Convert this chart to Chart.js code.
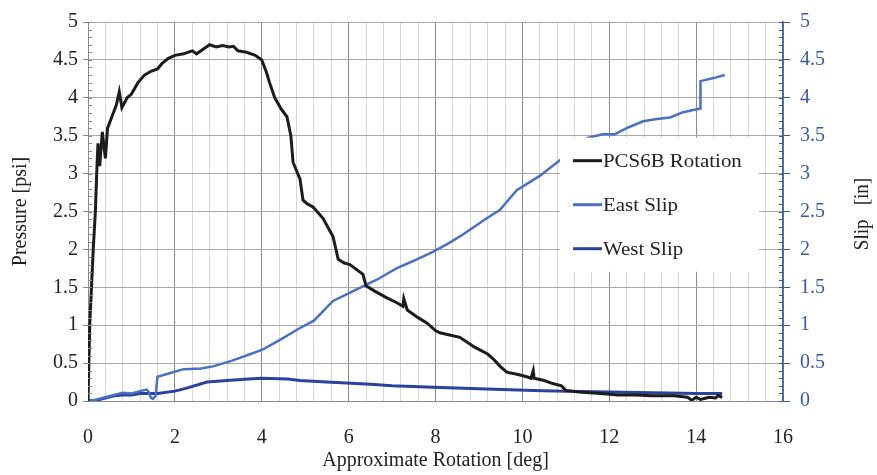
<!DOCTYPE html>
<html>
<head>
<meta charset="utf-8">
<script src="https://cdn.jsdelivr.net/npm/chart.js@4"></script>
<style>
  html, body { margin: 0; padding: 0; background: #fff; }
  #wrap { width: 877px; height: 475px; }
</style>
</head>
<body>
<div id="wrap"><canvas id="grafico"></canvas></div>
<script>
// datos
const seriesNames = ['PCS6B Rotation', 'East Slip', 'West Slip'];

const pressureRot = [0, 0.04, 0.12, 0.17, 0.2, 0.23, 0.27, 0.33, 0.4, 0.45, 0.55, 0.65, 0.72, 0.78, 0.9, 1.0,
  1.15, 1.3, 1.45, 1.6, 1.7, 1.85, 2.0, 2.2, 2.4, 2.5, 2.65, 2.8, 2.95, 3.1, 3.25, 3.35, 3.45, 3.65, 3.85,
  4.0, 4.1, 4.18, 4.3, 4.45, 4.58, 4.67, 4.72, 4.88, 4.95, 5.05, 5.18, 5.41, 5.64, 5.76, 5.9, 6.03, 6.33,
  6.4, 6.6, 6.88, 7.1, 7.25, 7.27, 7.35, 7.6, 7.8, 8.0, 8.1, 8.4, 8.56, 8.8, 8.9, 9.2, 9.32, 9.5, 9.64,
  9.9, 10.1, 10.2, 10.25, 10.27, 10.5, 10.7, 10.9, 11.0, 11.3, 11.8, 12.2, 12.6, 13.0, 13.5, 13.8, 13.9,
  14.0, 14.1, 14.3, 14.45, 14.5, 14.6];
const pressure = [0, 1.0, 2.0, 2.5, 3.0, 3.4, 3.1, 3.55, 3.2, 3.6, 3.75, 3.9, 4.08, 3.87, 4.0, 4.05,
  4.2, 4.3, 4.35, 4.38, 4.45, 4.52, 4.56, 4.58, 4.62, 4.58, 4.64, 4.7, 4.67, 4.69, 4.67, 4.68, 4.62, 4.6, 4.56,
  4.5, 4.35, 4.2, 4.0, 3.85, 3.75, 3.5, 3.15, 2.93, 2.65, 2.6, 2.56, 2.41, 2.17, 1.87, 1.82, 1.8, 1.67,
  1.52, 1.45, 1.36, 1.3, 1.25, 1.35, 1.2, 1.1, 1.03, 0.93, 0.9, 0.86, 0.84, 0.75, 0.71, 0.62, 0.56, 0.45, 0.38,
  0.35, 0.32, 0.3, 0.4, 0.3, 0.27, 0.23, 0.2, 0.14, 0.12, 0.1, 0.08, 0.08, 0.07, 0.07, 0.05, 0.01,
  0.05, 0.02, 0.05, 0.04, 0.07, 0.05];

const eastRot = [0, 0.2, 0.4, 0.6, 0.8, 1.0, 1.2, 1.35, 1.4, 1.45, 1.5, 1.55, 1.57, 1.6, 1.9, 2.2, 2.6,
  2.9, 3.3, 3.65, 4.03, 4.4, 4.84, 5.2, 5.64, 6.0, 6.42, 6.65, 7.1, 7.5, 7.95, 8.3, 8.64, 9.18, 9.48, 9.87,
  10.4, 10.87, 11.2, 11.5, 11.85, 12.13, 12.4, 12.78, 13.1, 13.4, 13.7, 14.09, 14.1, 14.4, 14.66];
const eastSlip = [0, 0.02, 0.05, 0.08, 0.11, 0.1, 0.13, 0.15, 0.12, 0.04, 0.03, 0.06, 0.15, 0.32, 0.37, 0.42, 0.43,
  0.46, 0.53, 0.6, 0.68, 0.8, 0.95, 1.06, 1.32, 1.42, 1.54, 1.6, 1.75, 1.85, 1.97, 2.08, 2.2, 2.41, 2.52, 2.78,
  2.97, 3.18, 3.32, 3.47, 3.52, 3.52, 3.6, 3.69, 3.72, 3.74, 3.81, 3.86, 4.22, 4.26, 4.3];

const westRot = [0, 0.2, 0.4, 0.6, 0.8, 1.0, 1.2, 1.6, 2.0, 2.27, 2.74, 3.2, 3.7, 4.0, 4.6, 4.88, 5.5,
  6.5, 7.0, 7.94, 9.0, 10.25, 11.0, 12.0, 13.0, 14.0, 14.6];
const westSlip = [0, 0.01, 0.04, 0.07, 0.08, 0.08, 0.1, 0.1, 0.13, 0.17, 0.25, 0.27, 0.29, 0.3, 0.29, 0.27, 0.25,
  0.22, 0.2, 0.18, 0.16, 0.14, 0.13, 0.12, 0.11, 0.1, 0.1];

const toPoints = (xs, ys) => xs.map((x, i) => ({ x: x, y: ys[i] }));

const serif = 'Liberation Serif';
const blueAxis = '#3b57a8';
const fmt = v => String(+Number(v).toFixed(2));

// leyenda dentro del área, caja blanca
const legendBox = {
  id: 'legendBox',
  afterDatasetsDraw(chart) {
    const { ctx, chartArea, scales } = chart;
    const left = chartArea.right - 223;
    const top = scales.y.getPixelForValue(3.5) + 2;
    ctx.save();
    ctx.fillStyle = '#fff';
    ctx.fillRect(left, top, 199, 134);
    ctx.textBaseline = 'middle';
    ctx.fillStyle = '#222';
    chart.data.datasets.forEach((ds, i) => {
      const y = top + 23 + i * 44;
      ctx.strokeStyle = ds.borderColor;
      ctx.lineWidth = 3;
      ctx.beginPath();
      ctx.moveTo(left + 13, y);
      ctx.lineTo(left + 42, y);
      ctx.stroke();
      ctx.save();
      ctx.translate(left + 43, y + 1);
      ctx.scale(1.1, 1);
      ctx.font = '19px "' + serif + '"';
      ctx.fillText(ds.label, 0, 0);
      ctx.restore();
    });
    ctx.restore();
  }
};

// ticks menores y título derecho
const extras = {
  id: 'extras',
  afterDraw(chart) {
    const { ctx, chartArea, scales } = chart;
    ctx.save();
    ctx.lineWidth = 1;
    for (let v = 0; v <= 50; v++) {
      const py = Math.round(scales.y.getPixelForValue(v / 10)) + 0.5;
      ctx.strokeStyle = '#888';
      ctx.beginPath();
      ctx.moveTo(chartArea.left, py);
      ctx.lineTo(chartArea.left + 4, py);
      ctx.stroke();
      const py2 = Math.round(scales.y2.getPixelForValue(v / 10)) + 0.5;
      ctx.strokeStyle = blueAxis;
      ctx.beginPath();
      ctx.moveTo(chartArea.right - 4, py2);
      ctx.lineTo(chartArea.right, py2);
      ctx.stroke();
    }
    ctx.translate(863, 214);
    ctx.rotate(-Math.PI / 2);
    ctx.scale(1, 1.1);
    ctx.font = '19px "' + serif + '"';
    ctx.fillStyle = '#222';
    ctx.textAlign = 'center';
    ctx.textBaseline = 'middle';
    ctx.fillText('Slip   [in]', 0, 0);
    ctx.restore();
  }
};

const isMajorX = v => Math.abs(v / 2 - Math.round(v / 2)) < 1e-6;

new Chart(document.getElementById('grafico'), {
  type: 'scatter',
  data: {
    datasets: [{
      label: seriesNames[0],
      data: toPoints(pressureRot, pressure),
      borderColor: '#1c1c1c',
      borderWidth: 3,
      yAxisID: 'y'
    }, {
      label: seriesNames[1],
      data: toPoints(eastRot, eastSlip),
      borderColor: '#4a70c2',
      borderWidth: 2.5,
      yAxisID: 'y2'
    }, {
      label: seriesNames[2],
      data: toPoints(westRot, westSlip),
      borderColor: '#2a429e',
      borderWidth: 3,
      yAxisID: 'y2'
    }].map(ds => Object.assign(ds, { showLine: true, pointRadius: 0, tension: 0, fill: false }))
  },
  options: {
    responsive: true,
    maintainAspectRatio: false,
    animation: false,
    layout: { padding: { top: 18, left: 0, right: 0, bottom: 0 } },
    plugins: {
      legend: { display: false },
      tooltip: { enabled: false }
    },
    scales: {
      x: {
        type: 'linear',
        min: 0, max: 16,
        afterFit: s => { s.height = 74; },
        ticks: {
          stepSize: 0.4,
          autoSkip: false,
          maxRotation: 0,
          padding: 25,
          color: '#222',
          font: { family: serif, size: 20 },
          callback: v => isMajorX(v) ? String(Math.round(v)) : ''
        },
        grid: {
          drawTicks: false,
          color: c => isMajorX(c.tick.value) ? '#8a8a8a' : '#d6d6d6'
        },
        border: { color: '#8a8a8a' },
        title: {
          display: true,
          text: 'Approximate Rotation [deg]',
          color: '#222',
          font: { family: serif, size: 20 },
          padding: { top: 0, bottom: 2 }
        }
      },
      y: {
        position: 'left',
        min: 0, max: 5,
        afterFit: s => { s.width = 88; },
        ticks: {
          stepSize: 0.5,
          padding: 5,
          color: '#222',
          font: { family: serif, size: 20 },
          callback: fmt
        },
        grid: { color: '#a8a8a8', tickLength: 5, tickColor: '#888' },
        border: { color: '#888' },
        title: {
          display: true,
          text: 'Pressure [psi]',
          color: '#222',
          font: { family: serif, size: 20 },
          padding: { top: 9, bottom: 0 }
        }
      },
      y2: {
        position: 'right',
        min: 0, max: 5,
        afterFit: s => { s.width = 94; },
        ticks: {
          stepSize: 0.5,
          padding: 10,
          color: blueAxis,
          font: { family: serif, size: 20 },
          callback: fmt
        },
        grid: { drawOnChartArea: false, tickLength: 7, tickColor: blueAxis },
        border: { color: blueAxis, width: 1.5 }
      }
    }
  },
  plugins: [legendBox, extras]
});
</script>
</body>
</html>
